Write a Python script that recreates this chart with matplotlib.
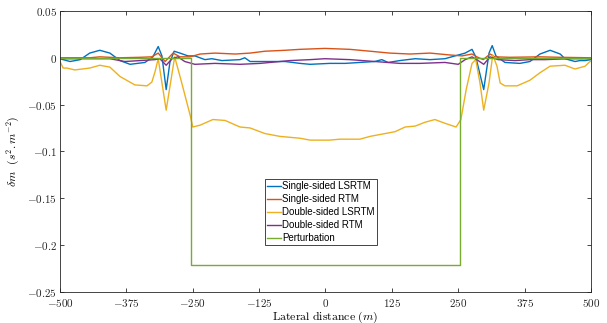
import matplotlib
matplotlib.use("Agg")
import matplotlib.pyplot as plt

plt.rcParams['mathtext.fontset'] = 'cm'
plt.rcParams['font.family'] = ['DejaVu Serif']

# Single-sided LSRTM
ss_lsrtm_x = [-500,-494,-481,-462,-444,-425,-406,-387,-368,-340,
              -325,-315,-308,-300,-293,-285,-274,-259,-246,-227,
              -214,-195,-161,-152,-142,-114,-76,-48,-29,8,
              37,65,93,106,118,140,169,197,225,244,
              263,276,283,298,308,314,321,338,366,385,
              404,423,442,451,470,479,489,500]
ss_lsrtm_y = [-0.001,-0.002,-0.004,-0.002,0.005,0.008,0.005,-0.003,-0.007,-0.005,
              0.001,0.012,0.002,-0.034,-0.005,0.007,0.005,0.002,0.002,-0.002,
              -0.001,-0.003,-0.002,0.000,-0.004,-0.004,-0.004,-0.006,-0.007,-0.006,
              -0.006,-0.005,-0.004,-0.002,-0.005,-0.003,-0.001,-0.002,-0.001,0.002,
              0.005,0.009,0.001,-0.034,0.005,0.013,0.002,-0.005,-0.006,-0.004,
              0.004,0.008,0.004,-0.001,-0.004,-0.003,-0.003,-0.002]

# Single-sided RTM
ss_rtm_x = [-500,-444,-425,-387,-349,-327,-315,-302,-287,-274,
            -255,-236,-208,-170,-142,-114,-76,-48,-1,46,
            84,121,159,197,234,257,276,285,297,310,
            319,347,404,442,500]
ss_rtm_y = [0.000,0.000,0.001,0.000,0.0005,0.001,0.005,-0.004,0.005,0.001,
            0.001,0.004,0.005,0.004,0.005,0.007,0.008,0.009,0.010,0.009,
            0.007,0.005,0.004,0.005,0.003,0.002,0.004,0.001,-0.002,0.004,
            0.001,0.0005,0.001,0.0005,0.000]

# Double-sided LSRTM
ds_lsrtm_x = [-500,-494,-487,-472,-444,-425,-406,-387,-359,-336,
              -327,-321,-315,-300,-284,-272,-255,-250,-236,-212,
              -189,-161,-142,-114,-86,-48,-29,8,27,65,
              84,131,150,169,187,206,225,246,255,265,
              276,283,291,298,308,315,323,329,338,361,
              385,404,423,451,470,489,498,500]
ds_lsrtm_y = [-0.004,-0.011,-0.011,-0.013,-0.011,-0.008,-0.010,-0.020,-0.029,-0.030,
              -0.026,-0.015,-0.001,-0.056,0.001,-0.024,-0.061,-0.074,-0.072,-0.066,
              -0.067,-0.074,-0.075,-0.081,-0.084,-0.086,-0.088,-0.088,-0.087,-0.087,
              -0.084,-0.079,-0.074,-0.073,-0.069,-0.066,-0.070,-0.074,-0.066,-0.034,
              -0.006,-0.002,-0.027,-0.056,-0.027,0.003,-0.009,-0.027,-0.030,-0.030,
              -0.024,-0.016,-0.009,-0.008,-0.012,-0.009,-0.004,-0.004]

# Double-sided RTM
ds_rtm_x = [-500,-444,-406,-378,-349,-321,-312,-300,-289,-278,
            -265,-246,-208,-161,-123,-67,-29,-1,46,93,
            140,178,225,250,263,276,285,298,310,325,
            357,385,413,460,500]
ds_rtm_y = [-0.001,-0.001,-0.001,-0.004,-0.003,-0.002,-0.001,-0.008,-0.001,0.001,
            -0.004,-0.007,-0.006,-0.007,-0.006,-0.003,-0.002,-0.001,-0.002,-0.004,
            -0.006,-0.006,-0.005,-0.007,-0.002,0.001,-0.002,-0.007,0.001,-0.002,
            -0.003,-0.002,-0.002,-0.001,-0.001]

# Perturbation
pert_x = [-500, -253, -253, 253, 253, 500]
pert_y = [0, 0, -0.221, -0.221, 0, 0]

labels = ['Single-sided LSRTM', 'Single-sided RTM', 'Double-sided LSRTM',
          'Double-sided RTM', 'Perturbation']
colors = ['#0072BD', '#D95319', '#EDB120', '#7E2F8E', '#77AC30']

xticks = [-500, -375, -250, -125, 0, 125, 250, 375, 500]
xticklabels = ['$-500$', '$-375$', '$-250$', '$-125$', '$0$', '$125$', '$250$', '$375$', '$500$']
yticks = [-0.25, -0.2, -0.15, -0.1, -0.05, 0, 0.05]
yticklabels = ['$-0.25$', '$-0.2$', '$-0.15$', '$-0.1$', '$-0.05$', '$0$', '$0.05$']

fig = plt.figure(figsize=(6.07, 3.23), dpi=100)
ax = fig.add_axes([0.0988, 0.0969, 0.8748, 0.8691])

series = [(ss_lsrtm_x, ss_lsrtm_y), (ss_rtm_x, ss_rtm_y), (ds_lsrtm_x, ds_lsrtm_y),
          (ds_rtm_x, ds_rtm_y), (pert_x, pert_y)]
for (xs, ys), lab, c in zip(series, labels, colors):
    ax.plot(xs, ys, color=c, lw=1.0, label=lab)

ax.set_xlim(-500, 500)
ax.set_ylim(-0.25, 0.05)
ax.set_xticks(xticks)
ax.set_xticklabels(xticklabels, fontsize=8)
ax.set_yticks(yticks)
ax.set_yticklabels(yticklabels, fontsize=8)
ax.tick_params(direction='in', top=True, right=True, length=3, width=0.6, colors='0.15')
ax.tick_params(axis='x', pad=3.5)
ax.tick_params(axis='y', pad=2)
for s in ax.spines.values():
    s.set_color('0.15')
    s.set_linewidth(0.6)

ax.set_xlabel(r'$\mathrm{Lateral\ distance}\ (m)$', fontsize=8.5, labelpad=0.5)
ax.set_ylabel(r'$\delta m\ \ (s^2.m^{-2})$', fontsize=8.5, labelpad=4)

leg = ax.legend(loc='upper left', bbox_to_anchor=(0.386, 0.40), fancybox=False,
                prop={'family': 'Liberation Sans', 'size': 7}, frameon=True,
                edgecolor='0.15', framealpha=1, borderpad=0.2, labelspacing=0.3,
                handlelength=1.5, handletextpad=0.1, borderaxespad=0)
leg.get_frame().set_linewidth(0.6)

fig.savefig('out.png', dpi=100)
